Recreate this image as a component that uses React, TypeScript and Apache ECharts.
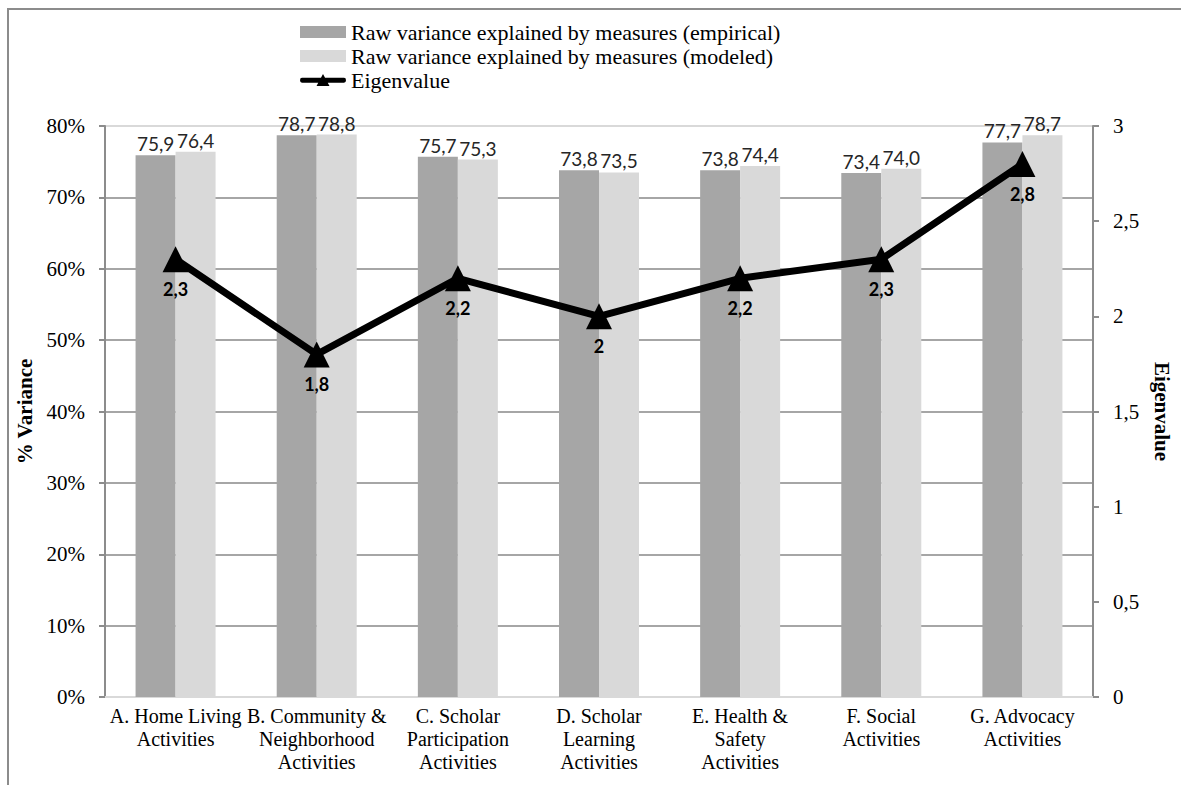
import React, { useEffect, useRef } from "react";
import * as echarts from "echarts";

// Categories of activity domains
const categories: string[] = [
  "A. Home Living\nActivities",
  "B. Community &\nNeighborhood\nActivities",
  "C. Scholar\nParticipation\nActivities",
  "D. Scholar\nLearning\nActivities",
  "E. Health &\nSafety\nActivities",
  "F. Social\nActivities",
  "G. Advocacy\nActivities",
];

// Raw variance explained by measures (%)
const empirical: number[] = [75.9, 78.7, 75.7, 73.8, 73.8, 73.4, 77.7];
const modeled: number[] = [76.4, 78.8, 75.3, 73.5, 74.4, 74.0, 78.7];

// First-contrast eigenvalues
const eigenvalues: number[] = [2.3, 1.8, 2.2, 2.0, 2.2, 2.3, 2.8];

const seriesNames = {
  empirical: "Raw variance explained by measures (empirical)",
  modeled: "Raw variance explained by measures (modeled)",
  eigen: "Eigenvalue",
};

const SERIF = "'Liberation Serif', 'DejaVu Serif', serif";
const SANS = "Lato, 'Open Sans', sans-serif";

// Legend glyph for the eigenvalue line: thick stroke with a triangle marker
const LINE_TRIANGLE_ICON =
  "path://M2,4 L44,4 Q46,4 46,6.5 Q46,9 44,9 L2,9 Q0,9 0,6.5 Q0,4 2,4 Z M16.5,12.5 L23,0 L29.5,12.5 Z";

const decimalComma = (v: number, digits?: number) =>
  (digits === undefined ? String(v) : v.toFixed(digits)).replace(".", ",");

export default function App() {
  const ref = useRef<HTMLDivElement>(null);

  useEffect(() => {
    if (!ref.current) return;
    const chart = echarts.init(ref.current, undefined, { renderer: "svg" });

    const gridColors = [
      "#d9d9d9",
      "#a6a6a6",
      "#a6a6a6",
      "#a6a6a6",
      "#a6a6a6",
      "#a6a6a6",
      "#a6a6a6",
      "#a6a6a6",
      "#d9d9d9",
    ];

    const barLabel = {
      show: true,
      position: "top",
      distance: 2,
      formatter: (p: any) => decimalComma(p.value, 1),
      fontFamily: SANS,
      fontSize: 19,
      color: "#262626",
    };

    chart.setOption({
      animation: false,
      backgroundColor: "#ffffff",
      graphic: [
        {
          type: "rect",
          shape: { x: 8, y: 9, width: 1400, height: 1000 },
          style: { fill: "none", stroke: "#8c8c8c", lineWidth: 2 },
          silent: true,
          z: 100,
        },
      ],
      legend: {
        orient: "vertical",
        left: 295,
        top: 16,
        itemGap: 2,
        itemWidth: 46,
        itemHeight: 12,
        symbolKeepAspect: false,
        textStyle: {
          fontFamily: SERIF,
          fontSize: 22,
          lineHeight: 21,
          color: "#000000",
        },
        data: [
          { name: seriesNames.empirical, icon: "rect" },
          { name: seriesNames.modeled, icon: "rect" },
          {
            name: seriesNames.eigen,
            icon: LINE_TRIANGLE_ICON,
            itemStyle: { color: "#000000" },
          },
        ],
      },
      grid: { left: 105, right: 88, top: 126, bottom: 88 },
      xAxis: {
        type: "category",
        data: categories,
        axisTick: { show: false },
        axisLine: { lineStyle: { color: "#d9d9d9", width: 2 } },
        axisLabel: {
          interval: 0,
          margin: 7,
          fontFamily: SERIF,
          fontSize: 20,
          lineHeight: 23,
          color: "#000000",
        },
      },
      yAxis: [
        {
          type: "value",
          min: 0,
          max: 80,
          interval: 10,
          name: "% Variance",
          nameLocation: "middle",
          nameRotate: 90,
          nameGap: 70,
          nameTextStyle: {
            fontFamily: SERIF,
            fontWeight: "bold",
            fontSize: 21,
            color: "#000000",
          },
          axisLine: { show: true, lineStyle: { color: "#8c8c8c", width: 2 } },
          axisTick: { show: true, length: 6, lineStyle: { color: "#8c8c8c", width: 2 } },
          axisLabel: {
            formatter: "{value}%",
            margin: 20,
            fontFamily: SERIF,
            fontSize: 21,
            color: "#000000",
          },
          splitLine: { show: true, lineStyle: { color: gridColors, width: 2 } },
        },
        {
          type: "value",
          min: 0,
          max: 3,
          interval: 0.5,
          position: "right",
          name: "Eigenvalue",
          nameLocation: "middle",
          nameRotate: -90,
          nameGap: 58,
          nameTextStyle: {
            fontFamily: SERIF,
            fontWeight: "bold",
            fontSize: 21,
            color: "#000000",
          },
          axisLine: { show: true, lineStyle: { color: "#8c8c8c", width: 2 } },
          axisTick: { show: true, length: 6, lineStyle: { color: "#8c8c8c", width: 2 } },
          axisLabel: {
            formatter: (v: number) => decimalComma(v),
            margin: 20,
            fontFamily: SERIF,
            fontSize: 21,
            color: "#000000",
          },
          splitLine: { show: false },
        },
      ],
      series: [
        {
          name: seriesNames.empirical,
          type: "bar",
          data: empirical,
          barWidth: 40,
          barGap: "0%",
          itemStyle: { color: "#a6a6a6" },
          label: barLabel,
        },
        {
          name: seriesNames.modeled,
          type: "bar",
          data: modeled,
          barWidth: 40,
          barGap: "0%",
          itemStyle: { color: "#d9d9d9" },
          label: barLabel,
        },
        {
          name: seriesNames.eigen,
          type: "line",
          yAxisIndex: 1,
          data: eigenvalues,
          symbol: "triangle",
          symbolSize: 26,
          lineStyle: { color: "#000000", width: 7 },
          itemStyle: { color: "#000000" },
          z: 10,
          label: {
            show: true,
            position: "bottom",
            distance: 8,
            formatter: (p: any) => decimalComma(p.value),
            fontFamily: SANS,
            fontWeight: "bold",
            fontSize: 18,
            color: "#000000",
          },
        },
      ],
    });

    return () => chart.dispose();
  }, []);

  return (
    <div
      ref={ref}
      style={{ position: "fixed", left: 0, top: 0, width: 1181, height: 785 }}
    />
  );
}
